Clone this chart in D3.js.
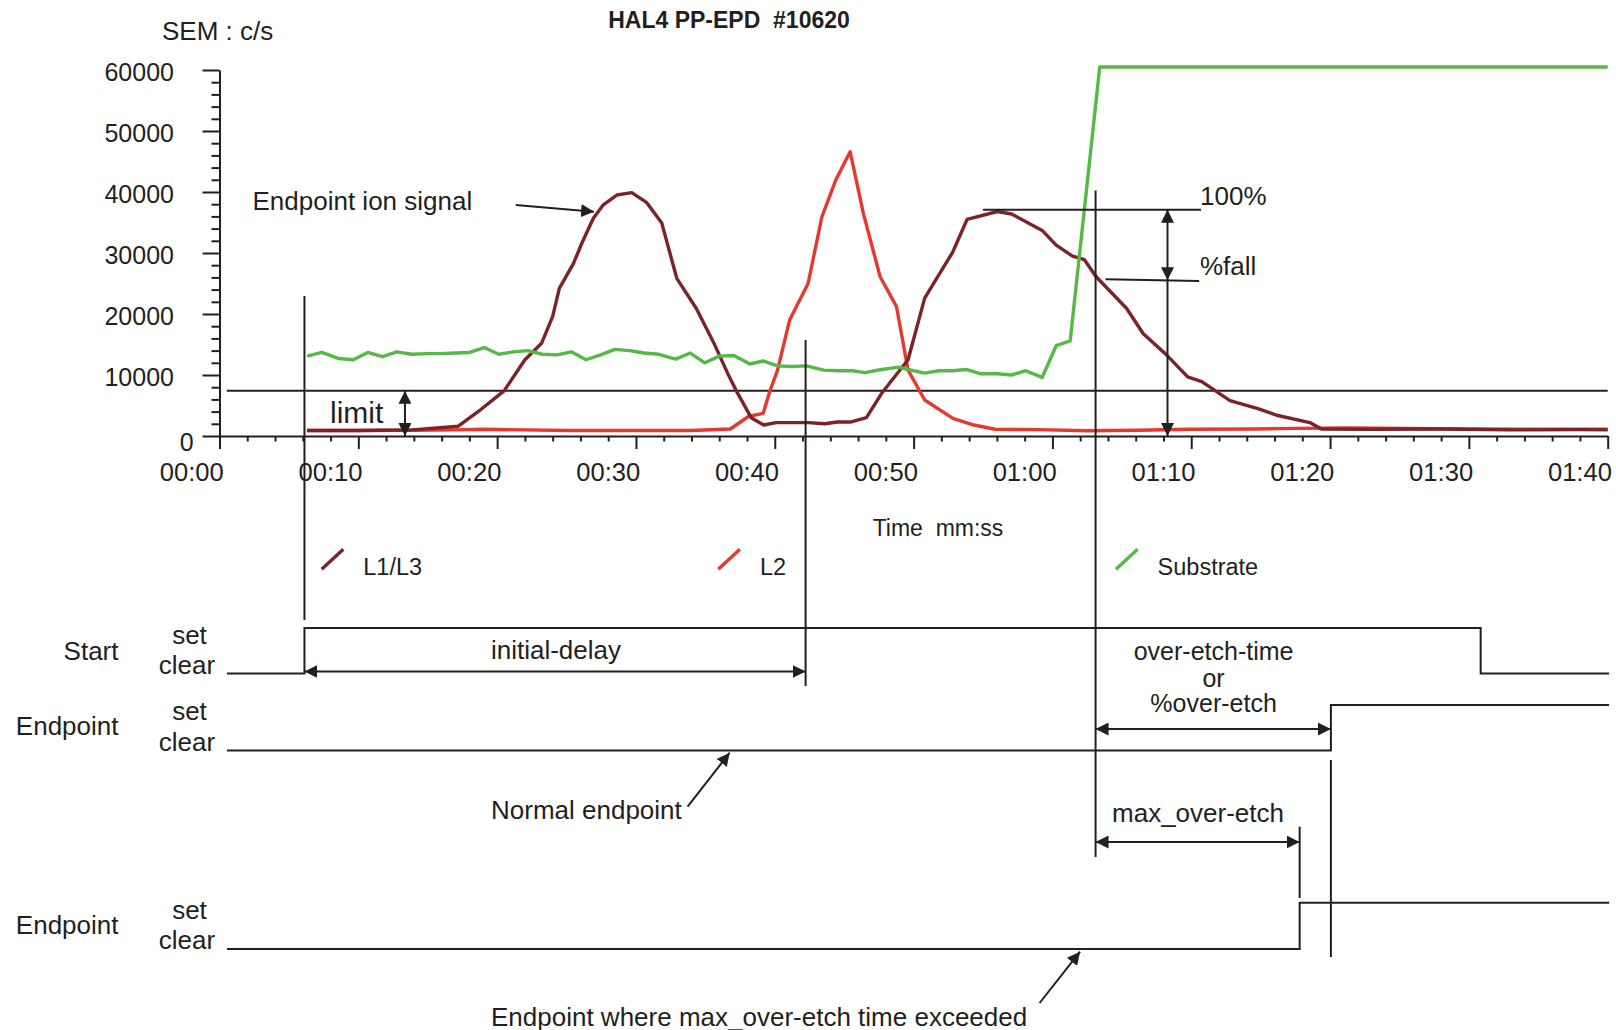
<!DOCTYPE html>
<html><head><meta charset="utf-8">
<script src="https://cdn.jsdelivr.net/npm/d3@7"></script>
<style>
html,body{margin:0;padding:0;background:#fff;}
svg text{font-family:"Liberation Sans",Arial,Helvetica,sans-serif;fill:#231f20;white-space:pre;}
</style></head><body>
<svg id="c" width="1616" height="1030"></svg>
<script>
// ---------------- data ----------------
const chartTitle = "HAL4 PP-EPD  #10620";
const yAxisTitle = "SEM : c/s";
const xAxisTitle = "Time  mm:ss";
const yTickValues = [0, 10000, 20000, 30000, 40000, 50000, 60000];
const yTickLabels = ["0", "10000", "20000", "30000", "40000", "50000", "60000"];
const xTickSeconds = [0, 10, 20, 30, 40, 50, 60, 70, 80, 90, 100];
const xTickLabels = ["00:00", "00:10", "00:20", "00:30", "00:40", "00:50", "01:00", "01:10", "01:20", "01:30", "01:40"];
const seriesNames = ["L1/L3", "L2", "Substrate"];
const seriesColors = ["#7b2329", "#e5392e", "#57b847"];

// L1/L3 (seconds, counts/s)
const l13Time = [8.3, 12, 15.9, 19.2, 20.8, 22.5, 24.0, 25.2, 26.0, 26.48, 27.5, 28.1, 28.93, 29.65, 30.62, 31.7, 32.78, 33.86, 34.94, 36.35, 37.6, 38.6, 39.3, 40.3, 41.2, 42.1, 44.4, 45.6, 46.5, 47.5, 48.6, 49.7, 51.6, 52.8, 54.83, 55.85, 58.05, 59.06, 61.26, 62.27, 63.45, 64.3, 65.15, 67.35, 68.53, 70.22, 71.74, 72.76, 74.79, 76.8, 78.16, 80.54, 81.38, 85, 90, 95, 100, 102];
const l13Counts = [900, 900, 1000, 1600, 4300, 7400, 12500, 15200, 19600, 24200, 28300, 31600, 35700, 37900, 39500, 39900, 38250, 34900, 25850, 20900, 15300, 10300, 7100, 3000, 1800, 2200, 2200, 2000, 2300, 2300, 3000, 7000, 12500, 22600, 30200, 35500, 36800, 36400, 33700, 31300, 29500, 28900, 26100, 20900, 16800, 13300, 9700, 8900, 5800, 4500, 3400, 2200, 1150, 1100, 1150, 1000, 1050, 1000];

// L2
const l2Time = [8.3, 12, 16, 19, 21, 24, 27, 30, 33, 36, 38.8, 40.1, 41.16, 41.67, 42.2, 43.07, 44.4, 45.39, 46.4, 47.43, 48.38, 49.59, 50.77, 51.6, 52.8, 54.83, 56.35, 57.87, 61, 64.5, 68.2, 71.9, 76.6, 79.4, 83.2, 87.5, 92, 97, 102];
const l2Counts = [900, 900, 950, 1000, 1100, 1000, 900, 900, 900, 900, 1150, 3200, 3700, 7500, 10800, 19000, 25000, 35900, 42000, 46600, 36500, 26100, 21200, 10800, 5900, 2900, 1800, 1100, 1050, 850, 950, 1100, 1150, 1250, 1300, 1250, 1150, 1100, 1100];

// Substrate
const subTime = [8.32, 9.37, 10.59, 11.64, 12.68, 13.74, 14.78, 15.83, 17, 18, 19, 20.02, 21.07, 22.12, 23.15, 24.21, 25.26, 26.31, 27.35, 28.4, 29.45, 30.49, 31.55, 32.58, 33.64, 34.86, 35.91, 36.96, 38.01, 39.05, 40.21, 41.16, 42.2, 43.25, 44.29, 45.52, 46.56, 47.61, 48.48, 49.7, 50.93, 51.6, 52.8, 53.81, 54.8, 55.85, 56.86, 58.05, 59.06, 60.07, 61.26, 62.27, 63.28, 65.41, 102];
const subCounts = [13100, 13700, 12700, 12500, 13700, 13000, 13800, 13400, 13500, 13500, 13600, 13700, 14500, 13400, 13800, 14000, 13400, 13300, 13800, 12500, 13300, 14200, 14000, 13600, 13400, 12600, 13600, 12000, 13100, 13200, 11800, 12300, 11500, 11400, 11500, 10800, 10700, 10700, 10400, 10900, 11300, 10900, 10300, 10700, 10700, 10900, 10200, 10200, 10000, 10700, 9600, 14800, 15600, 60500, 60500];

// annotation levels / times
const limitLevel = 7400;
const fullLevel = 37100;           // 100%
const fallLevels = [25700, 25400]; // %fall line ends
const startTime = 8.12, initialDelayEnd = 44.22, fallTime = 65.11;
const maxOverEtchEnd = 79.81, endpointTime = 82.06, startClearTime = 92.85;
const signalStart = 2.54, signalEnd = 102.1;
const startSignal = [[signalStart, 0], [startTime, 1], [startClearTime, 0], [signalEnd, 0]];
const endpointSignal = [[signalStart, 0], [endpointTime, 1], [signalEnd, 1]];
const maxEndpointSignal = [[signalStart, 0], [maxOverEtchEnd, 1], [signalEnd, 1]];

// ---------------- drawing ----------------
const ink = "#231f20";
const svg = d3.select("#c");
const x = d3.scaleLinear().domain([2, 102]).range([219.5, 1607.7]);
const y = d3.scaleLinear().domain([0, 60000]).range([436, 70]);

const defs = svg.append("defs");
defs.append("marker").attr("id", "ah").attr("viewBox", "0 0 12 12")
  .attr("refX", 12).attr("refY", 6).attr("markerWidth", 13).attr("markerHeight", 13)
  .attr("markerUnits", "userSpaceOnUse").attr("orient", "auto-start-reverse")
  .append("path").attr("d", "M0,0 L12,6 L0,12 Z").attr("fill", ink);

function seg(x1, y1, x2, y2, opts = {}) {
  const l = svg.append("line").attr("x1", x1).attr("y1", y1).attr("x2", x2).attr("y2", y2)
    .attr("stroke", ink).attr("stroke-width", opts.w || 2);
  if (opts.start) l.attr("marker-start", "url(#ah)");
  if (opts.end) l.attr("marker-end", "url(#ah)");
  return l;
}
function txt(x0, y0, s, size, anchor, weight) {
  return svg.append("text").attr("x", x0).attr("y", y0).attr("font-size", size)
    .attr("text-anchor", anchor || "start").attr("font-weight", weight || "normal").text(s);
}

// titles
txt(729, 27.5, chartTitle, 23, "middle", "bold");
txt(162, 40, yAxisTitle, 26);

// y axis
const yAxis = d3.axisLeft(y).tickValues(d3.range(0, 60001, 2000)).tickSizeInner(8).tickSizeOuter(0).tickFormat("");
const gy = svg.append("g").attr("transform", "translate(219.5,0)").call(yAxis);
gy.selectAll(".tick line").attr("x2", d => d % 10000 === 0 ? -17 : -8);
gy.selectAll("path,line").attr("stroke", ink).attr("stroke-width", 2);
yTickValues.forEach((v, i) => {
  if (v === 0) txt(186.7, 451, yTickLabels[i], 25, "middle");
  else txt(174, y(v) + 10.5, yTickLabels[i], 25, "end");
});

// x axis
const xAxis = d3.axisBottom(x).tickValues(d3.range(2, 103, 2)).tickSizeInner(5.5).tickSizeOuter(0).tickFormat("");
const gx = svg.append("g").attr("transform", "translate(0,436)").call(xAxis);
gx.selectAll(".tick line").attr("y2", d => (d - 2) % 10 === 0 ? 13 : 5.5);
gx.selectAll("path,line").attr("stroke", ink).attr("stroke-width", 2);
xTickSeconds.forEach((s, i) => txt(x(s), 481, xTickLabels[i], 25.6, "middle"));
txt(938, 536, xAxisTitle, 23, "middle");

// limit line
seg(x(2.52), y(limitLevel), x(102), y(limitLevel));

// series
const line = d3.line().x(d => x(d[0])).y(d => y(d[1]));
const seriesData = [
  { name: seriesNames[1], color: seriesColors[1], pts: d3.zip(l2Time, l2Counts) },
  { name: seriesNames[0], color: seriesColors[0], pts: d3.zip(l13Time, l13Counts) },
  { name: seriesNames[2], color: seriesColors[2], pts: d3.zip(subTime, subCounts) }
];
svg.append("g").selectAll("path").data(seriesData).join("path")
  .attr("d", d => line(d.pts)).attr("fill", "none").attr("stroke", d => d.color)
  .attr("stroke-width", 3.4).attr("stroke-linejoin", "round");

// limit arrow + label
seg(x(15.36), y(limitLevel), x(15.36), y(0), { start: true, end: true });
txt(330, 423, "limit", 30);

// endpoint ion signal
txt(252.5, 209.5, "Endpoint ion signal", 26);
seg(x(23.34), y(37870), x(28.98), y(36770), { end: true });

// 100% / %fall
seg(x(57.0), y(fullLevel), x(72.7), y(fullLevel));
seg(x(65.83), y(fallLevels[0]), x(72.57), y(fallLevels[1]));
seg(x(70.29), y(fullLevel), x(70.29), y(25550), { start: true, end: true });
seg(x(70.29), y(25550), x(70.29), y(0), { end: true });
txt(1200, 205, "100%", 26);
txt(1200, 275, "%fall", 26);

// legend
const legendX = [321.7, 718.3, 1116];
seriesNames.forEach((n, i) => {
  svg.append("line").attr("x1", legendX[i]).attr("y1", 569.3).attr("x2", legendX[i] + 21.6).attr("y2", 549.3)
    .attr("stroke", seriesColors[i]).attr("stroke-width", 3.4);
  txt(legendX[i] + 41.6, 575, n, 23.5);
});

// vertical marker lines
seg(x(startTime), 296, x(startTime), 620);
seg(x(initialDelayEnd), 340, x(initialDelayEnd), 686);
seg(x(fallTime), 190.6, x(fallTime), 857);
seg(x(endpointTime), 760, x(endpointTime), 957);
seg(x(maxOverEtchEnd), 826.7, x(maxOverEtchEnd), 898);

// timing signals
const rows = [
  { name: "Start", sig: startSignal, set: 628, clear: 673.5, label: 660, setL: 644, clearL: 674 },
  { name: "Endpoint", sig: endpointSignal, set: 705, clear: 750.5, label: 735, setL: 719.5, clearL: 751 },
  { name: "Endpoint", sig: maxEndpointSignal, set: 902.7, clear: 949, label: 934, setL: 918.5, clearL: 948.5 }
];
rows.forEach(r => {
  const l = d3.line().curve(d3.curveStepAfter).x(d => x(d[0])).y(d => d[1] ? r.set : r.clear);
  svg.append("path").attr("d", l(r.sig)).attr("fill", "none").attr("stroke", ink).attr("stroke-width", 2);
  txt(118.5, r.label, r.name, 26, "end");
  txt(189.5, r.setL, "set", 26, "middle");
  txt(187, r.clearL, "clear", 26, "middle");
});

// interval arrows
seg(x(startTime), 671.5, x(initialDelayEnd), 671.5, { start: true, end: true });
txt(556, 658.5, "initial-delay", 26, "middle");
seg(x(fallTime), 729, x(endpointTime), 729, { start: true, end: true });
txt(1213.6, 660, "over-etch-time", 25, "middle");
txt(1213.6, 686.7, "or", 25, "middle");
txt(1213.6, 712, "%over-etch", 25, "middle");
seg(x(fallTime), 842, x(maxOverEtchEnd), 842, { start: true, end: true });
txt(1198, 822, "max_over-etch", 26, "middle");

// pointer annotations
seg(x(35.72), 806.7, x(38.75), 752.7, { end: true });
txt(491, 818.5, "Normal endpoint", 26);
seg(x(61.08), 1003, x(63.99), 951.7, { end: true });
txt(491, 1025.5, "Endpoint where max_over-etch time exceeded", 26);
</script>
</body></html>
